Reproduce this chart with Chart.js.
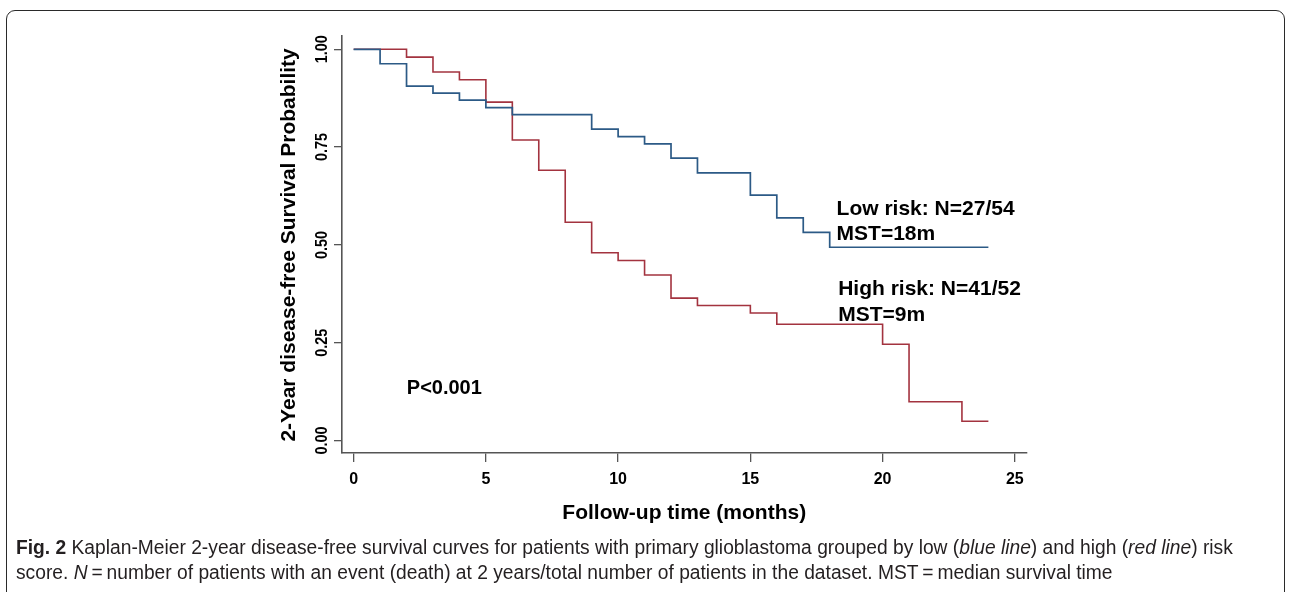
<!DOCTYPE html>
<html>
<head>
<meta charset="utf-8">
<script src="https://cdn.jsdelivr.net/npm/chart.js@4"></script>
<style>
  html, body { margin: 0; padding: 0; background: #fff; }
  body { width: 1290px; height: 592px; overflow: hidden; position: relative; }
  #frame {
    position: absolute; left: 6px; top: 10px; width: 1279px; height: 700px;
    border: 1.6px solid #2a2a2a; border-radius: 9px; box-sizing: border-box;
  }
  #wrap { position: absolute; left: 0; top: 0; width: 1290px; height: 540px; }
  #caption {
    position: absolute; left: 16px; top: 535px; width: 1300px;
    font-family: "Liberation Sans", Arial, sans-serif;
    font-size: 20px; line-height: 25px; color: #231f20; white-space: nowrap;
    transform: scaleX(0.961); transform-origin: left top;
  }
</style>
</head>
<body>
<div id="frame"></div>
<div id="wrap"><canvas id="chart"></canvas></div>
<div id="caption"><b>Fig. 2</b> Kaplan-Meier 2-year disease-free survival curves for patients with primary glioblastoma grouped by low (<i>blue line</i>) and high (<i>red line</i>) risk<br>score. <i>N</i>&#8201;=&#8201;number of patients with an event (death) at 2 years/total number of patients in the dataset. MST&#8201;=&#8201;median survival time</div>
<script>
'use strict';

//*****DATA******/

let lowTimes = [0, 1, 2, 3, 4, 5, 6, 9, 10, 11, 12, 13, 15, 16, 17, 18, 24];
let lowSurv = [1.000, 0.963, 0.906, 0.888, 0.870, 0.851, 0.833, 0.796, 0.777, 0.758, 0.722, 0.684, 0.627, 0.569, 0.532, 0.494, 0.494];

let highTimes = [0, 2, 3, 4, 5, 6, 7, 8, 9, 10, 11, 12, 13, 15, 16, 20, 21, 23, 24];
let highSurv = [1.000, 0.980, 0.942, 0.922, 0.865, 0.768, 0.691, 0.558, 0.480, 0.460, 0.423, 0.364, 0.345, 0.326, 0.297, 0.246, 0.099, 0.049, 0.049];

let xTicks = [0, 5, 10, 15, 20, 25];
let yTicks = [0, 0.25, 0.5, 0.75, 1];
let yTickLabels = ['0.00', '0.25', '0.50', '0.75', '1.00'];

let lowLabel = ['Low risk: N=27/54', 'MST=18m'];
let highLabel = ['High risk: N=41/52', 'MST=9m'];
let pLabel = 'P<0.001';

//*****HELPERS******/

function toPoints(times, surv) {
  let pts = [];
  for (let i = 0; i < times.length; i++) {
    pts.push({ x: times[i], y: surv[i] });
  }
  return pts;
}

const sansBold = (size) => 'bold ' + size + 'px "Liberation Sans", Arial, sans-serif';

// draws rotated y tick labels, axis titles and the text inside the plot
const kmText = {
  id: 'kmText',
  afterDraw(chart) {
    let ctx = chart.ctx;
    let x = chart.scales.x;
    let y = chart.scales.y;
    ctx.save();
    ctx.fillStyle = '#000';

    ctx.font = sansBold(16);
    ctx.textAlign = 'center';
    ctx.textBaseline = 'middle';
    for (let i = 0; i < yTicks.length; i++) {
      ctx.save();
      ctx.translate(323, y.getPixelForValue(yTicks[i]));
      ctx.rotate(-Math.PI / 2);
      ctx.scale(0.9, 1);
      ctx.fillText(yTickLabels[i], 0, 0);
      ctx.restore();
    }

    ctx.font = sansBold(21);
    ctx.save();
    ctx.translate(289, (y.getPixelForValue(0) + y.getPixelForValue(1)) / 2);
    ctx.rotate(-Math.PI / 2);
    ctx.fillText('2-Year disease-free Survival Probability', 0, 0);
    ctx.restore();

    ctx.fillText('Follow-up time (months)', (x.getPixelForValue(0) + x.getPixelForValue(25)) / 2, 513);

    ctx.textAlign = 'left';
    ctx.textBaseline = 'alphabetic';
    ctx.fillText(lowLabel[0], x.getPixelForValue(18.26), y.getPixelForValue(0.577));
    ctx.fillText(lowLabel[1], x.getPixelForValue(18.26), y.getPixelForValue(0.513));
    ctx.fillText(highLabel[0], x.getPixelForValue(18.32), y.getPixelForValue(0.372));
    ctx.fillText(highLabel[1], x.getPixelForValue(18.32), y.getPixelForValue(0.306));
    ctx.font = sansBold(20);
    ctx.fillText(pLabel, x.getPixelForValue(2.01), y.getPixelForValue(0.118));
    ctx.restore();
  }
};

//*****CHART******/

let canvasElem = document.getElementById('chart');

let chartObj = {
  type: 'line',
  data: {
    datasets: [{
      label: 'Low risk',
      data: toPoints(lowTimes, lowSurv),
      borderColor: '#2c5a86',
      borderWidth: 1.7,
      stepped: 'before',
      pointRadius: 0,
      fill: false
    },
    {
      label: 'High risk',
      data: toPoints(highTimes, highSurv),
      borderColor: '#a3333f',
      borderWidth: 1.6,
      stepped: 'before',
      pointRadius: 0,
      fill: false
    }]
  },
  options: {
    responsive: false,
    animation: false,
    devicePixelRatio: 1,
    layout: { padding: { left: 0, top: 36, right: 263, bottom: 0 } },
    plugins: {
      legend: { display: false },
      tooltip: { enabled: false }
    },
    scales: {
      x: {
        type: 'linear',
        min: -0.44,
        max: 25.46,
        afterBuildTicks: (scale) => { scale.ticks = xTicks.map(v => ({ value: v })); },
        afterFit: (scale) => { scale.height = 87; },
        ticks: {
          color: '#000',
          font: { family: '"Liberation Sans", Arial', size: 16, weight: 'bold' },
          padding: 8,
          maxRotation: 0,
          autoSkip: false
        },
        grid: { display: true, drawOnChartArea: false, drawTicks: true, tickLength: 9, color: '#555', lineWidth: 1.3 },
        border: { display: true, color: '#555', width: 1.6 }
      },
      y: {
        type: 'linear',
        min: -0.032,
        max: 1.034,
        afterBuildTicks: (scale) => { scale.ticks = yTicks.map(v => ({ value: v })); },
        afterFit: (scale) => { scale.width = 342; },
        ticks: { display: false },
        grid: { display: true, drawOnChartArea: false, drawTicks: true, tickLength: 8, color: '#555', lineWidth: 1.3 },
        border: { display: true, color: '#555', width: 1.6 }
      }
    }
  },
  plugins: [kmText]
};

canvasElem.width = 1290;
canvasElem.height = 540;
new Chart(canvasElem, chartObj);
</script>
</body>
</html>
